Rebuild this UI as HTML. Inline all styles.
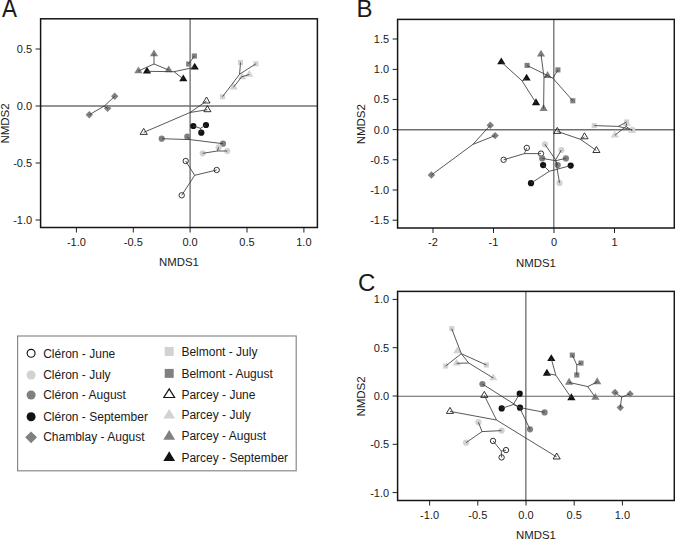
<!DOCTYPE html>
<html><head><meta charset="utf-8"><style>
html,body{margin:0;padding:0;background:#fff;}
body{width:675px;height:539px;overflow:hidden;}
svg{display:block;}
text{font-family:"Liberation Sans",sans-serif;fill:#1a1a1a;}
</style></head><body>
<svg width="675" height="539" viewBox="0 0 675 539">
<rect width="675" height="539" fill="#fff"/>
<line x1="190.1" y1="18.8" x2="190.1" y2="227.5" stroke="#707070" stroke-width="1.35"/>
<line x1="40.6" y1="106" x2="317.4" y2="106" stroke="#707070" stroke-width="1.45"/>
<polygon points="89.3,111 93,114.7 89.3,118.4 85.6,114.7" fill="#808080"/>
<polygon points="107.6,104.6 111.3,108.3 107.6,112 103.9,108.3" fill="#808080"/>
<polygon points="114.7,92.6 118.4,96.3 114.7,100 111,96.3" fill="#808080"/>
<polygon points="154,49.4 158.1,56.3 149.9,56.3" fill="#808080"/>
<polygon points="138.4,66.4 142.5,73.3 134.3,73.3" fill="#808080"/>
<polygon points="168.7,65.4 172.8,72.3 164.6,72.3" fill="#808080"/>
<polygon points="147,66.7 151.1,73.6 142.9,73.6" fill="#121212"/>
<polygon points="183.3,74.4 187.4,81.3 179.2,81.3" fill="#121212"/>
<polygon points="194.7,62.7 198.8,69.6 190.6,69.6" fill="#121212"/>
<rect x="191.85" y="53.45" width="5.1" height="5.1" fill="#808080"/>
<rect x="186.15" y="61.45" width="5.1" height="5.1" fill="#808080"/>
<rect x="237.95" y="59.95" width="5.1" height="5.1" fill="#d2d2d2"/>
<rect x="253.35" y="61.25" width="5.1" height="5.1" fill="#d2d2d2"/>
<rect x="219.95" y="94.15" width="5.1" height="5.1" fill="#d2d2d2"/>
<polygon points="249.2,69.9 253.3,76.8 245.1,76.8" fill="#d2d2d2"/>
<polygon points="233.6,82.6 237.7,89.5 229.5,89.5" fill="#d2d2d2"/>
<polygon points="242.1,72.4 246.2,79.3 238,79.3" fill="#d2d2d2"/>
<polygon points="206.5,97 210.05,103 202.95,103" fill="none" stroke="#121212" stroke-width="0.85"/>
<polygon points="207.4,105.7 210.95,111.7 203.85,111.7" fill="none" stroke="#121212" stroke-width="0.85"/>
<polygon points="143.7,128.4 147.25,134.4 140.15,134.4" fill="none" stroke="#121212" stroke-width="0.85"/>
<circle cx="193.3" cy="126" r="3.1" fill="#121212"/>
<circle cx="206" cy="125" r="3.1" fill="#121212"/>
<circle cx="201.3" cy="132.7" r="3.1" fill="#121212"/>
<circle cx="161.7" cy="138.7" r="3.1" fill="#808080"/>
<circle cx="187.3" cy="136.7" r="3.1" fill="#808080"/>
<circle cx="223" cy="143.7" r="3.1" fill="#808080"/>
<circle cx="202.7" cy="153.3" r="3.1" fill="#d2d2d2"/>
<circle cx="218.7" cy="147.3" r="3.1" fill="#d2d2d2"/>
<circle cx="227.3" cy="151" r="3.1" fill="#d2d2d2"/>
<circle cx="185.7" cy="161" r="2.7" fill="none" stroke="#121212" stroke-width="0.85"/>
<circle cx="216.7" cy="170" r="2.7" fill="none" stroke="#121212" stroke-width="0.85"/>
<circle cx="181.7" cy="195.3" r="2.7" fill="none" stroke="#121212" stroke-width="0.85"/>
<line x1="104.4" y1="106" x2="89.3" y2="114.7" stroke="#3a3a3a" stroke-width="0.85"/>
<line x1="104.4" y1="106" x2="107.6" y2="108.3" stroke="#3a3a3a" stroke-width="0.85"/>
<line x1="104.4" y1="106" x2="114.7" y2="96.3" stroke="#3a3a3a" stroke-width="0.85"/>
<line x1="154" y1="64" x2="154" y2="54" stroke="#3a3a3a" stroke-width="0.85"/>
<line x1="154" y1="64" x2="138.4" y2="71" stroke="#3a3a3a" stroke-width="0.85"/>
<line x1="154" y1="64" x2="168.7" y2="70" stroke="#3a3a3a" stroke-width="0.85"/>
<line x1="174" y1="71.7" x2="147" y2="71.3" stroke="#3a3a3a" stroke-width="0.85"/>
<line x1="174" y1="71.7" x2="183.3" y2="79" stroke="#3a3a3a" stroke-width="0.85"/>
<line x1="174" y1="71.7" x2="194.7" y2="67.3" stroke="#3a3a3a" stroke-width="0.85"/>
<line x1="191.5" y1="60" x2="194.4" y2="56" stroke="#3a3a3a" stroke-width="0.85"/>
<line x1="191.5" y1="60" x2="188.7" y2="64" stroke="#3a3a3a" stroke-width="0.85"/>
<line x1="239.6" y1="74.2" x2="240.5" y2="62.5" stroke="#3a3a3a" stroke-width="0.85"/>
<line x1="239.6" y1="74.2" x2="255.9" y2="63.8" stroke="#3a3a3a" stroke-width="0.85"/>
<line x1="239.6" y1="74.2" x2="222.5" y2="96.7" stroke="#3a3a3a" stroke-width="0.85"/>
<line x1="241.7" y1="76.8" x2="249.2" y2="74.5" stroke="#3a3a3a" stroke-width="0.85"/>
<line x1="241.7" y1="76.8" x2="233.6" y2="87.2" stroke="#3a3a3a" stroke-width="0.85"/>
<line x1="241.7" y1="76.8" x2="242.1" y2="77" stroke="#3a3a3a" stroke-width="0.85"/>
<line x1="190" y1="112.5" x2="206.5" y2="101" stroke="#3a3a3a" stroke-width="0.85"/>
<line x1="190" y1="112.5" x2="207.4" y2="109.7" stroke="#3a3a3a" stroke-width="0.85"/>
<line x1="190" y1="112.5" x2="143.7" y2="132.4" stroke="#3a3a3a" stroke-width="0.85"/>
<line x1="200.5" y1="128.3" x2="193.3" y2="126" stroke="#3a3a3a" stroke-width="0.85"/>
<line x1="200.5" y1="128.3" x2="206" y2="125" stroke="#3a3a3a" stroke-width="0.85"/>
<line x1="200.5" y1="128.3" x2="201.3" y2="132.7" stroke="#3a3a3a" stroke-width="0.85"/>
<line x1="190" y1="139.6" x2="161.7" y2="138.7" stroke="#3a3a3a" stroke-width="0.85"/>
<line x1="190" y1="139.6" x2="187.3" y2="136.7" stroke="#3a3a3a" stroke-width="0.85"/>
<line x1="190" y1="139.6" x2="223" y2="143.7" stroke="#3a3a3a" stroke-width="0.85"/>
<line x1="217.3" y1="151" x2="202.7" y2="153.3" stroke="#3a3a3a" stroke-width="0.85"/>
<line x1="217.3" y1="151" x2="218.7" y2="147.3" stroke="#3a3a3a" stroke-width="0.85"/>
<line x1="217.3" y1="151" x2="227.3" y2="151" stroke="#3a3a3a" stroke-width="0.85"/>
<line x1="194.7" y1="175.3" x2="185.7" y2="161" stroke="#3a3a3a" stroke-width="0.85"/>
<line x1="194.7" y1="175.3" x2="216.7" y2="170" stroke="#3a3a3a" stroke-width="0.85"/>
<line x1="194.7" y1="175.3" x2="181.7" y2="195.3" stroke="#3a3a3a" stroke-width="0.85"/>
<rect x="40.6" y="18.8" width="276.8" height="208.7" fill="none" stroke="#151515" stroke-width="1.5"/>
<line x1="76.4" y1="227.5" x2="76.4" y2="232.5" stroke="#151515" stroke-width="0.95"/>
<text x="76.4" y="246.2" font-size="11" text-anchor="middle">-1.0</text>
<line x1="133.3" y1="227.5" x2="133.3" y2="232.5" stroke="#151515" stroke-width="0.95"/>
<text x="133.3" y="246.2" font-size="11" text-anchor="middle">-0.5</text>
<line x1="190.1" y1="227.5" x2="190.1" y2="232.5" stroke="#151515" stroke-width="0.95"/>
<text x="190.1" y="246.2" font-size="11" text-anchor="middle">0.0</text>
<line x1="247" y1="227.5" x2="247" y2="232.5" stroke="#151515" stroke-width="0.95"/>
<text x="247" y="246.2" font-size="11" text-anchor="middle">0.5</text>
<line x1="303.9" y1="227.5" x2="303.9" y2="232.5" stroke="#151515" stroke-width="0.95"/>
<text x="303.9" y="246.2" font-size="11" text-anchor="middle">1.0</text>
<line x1="35.6" y1="49" x2="40.6" y2="49" stroke="#151515" stroke-width="0.95"/>
<text x="32.1" y="52.9" font-size="11" text-anchor="end">0.5</text>
<line x1="35.6" y1="106" x2="40.6" y2="106" stroke="#151515" stroke-width="0.95"/>
<text x="32.1" y="109.9" font-size="11" text-anchor="end">0.0</text>
<line x1="35.6" y1="163" x2="40.6" y2="163" stroke="#151515" stroke-width="0.95"/>
<text x="32.1" y="166.9" font-size="11" text-anchor="end">-0.5</text>
<line x1="35.6" y1="220" x2="40.6" y2="220" stroke="#151515" stroke-width="0.95"/>
<text x="32.1" y="223.9" font-size="11" text-anchor="end">-1.0</text>
<text x="179" y="266.4" font-size="11.4" text-anchor="middle">NMDS1</text>
<text x="0" y="0" font-size="11.5" text-anchor="middle" transform="translate(8.7,123.45) rotate(-90)">NMDS2</text>
<text x="0" y="0" font-size="22.5" transform="translate(1.9,16.9) scale(1,1.12)">A</text>
<line x1="553.8" y1="19.4" x2="553.8" y2="228" stroke="#707070" stroke-width="1.35"/>
<line x1="397.6" y1="129.7" x2="674.3" y2="129.7" stroke="#707070" stroke-width="1.45"/>
<polygon points="431.4,171.3 435.1,175 431.4,178.7 427.7,175" fill="#808080"/>
<polygon points="490.3,121.5 494,125.2 490.3,128.9 486.6,125.2" fill="#808080"/>
<polygon points="495.1,131.9 498.8,135.6 495.1,139.3 491.4,135.6" fill="#808080"/>
<polygon points="501.3,57.4 505.4,64.3 497.2,64.3" fill="#121212"/>
<polygon points="526.6,73.7 530.7,80.6 522.5,80.6" fill="#121212"/>
<polygon points="536,98.3 540.1,105.2 531.9,105.2" fill="#121212"/>
<polygon points="541,49.7 545.1,56.6 536.9,56.6" fill="#808080"/>
<polygon points="547.6,71.1 551.7,78 543.5,78" fill="#808080"/>
<polygon points="543.6,104 547.7,110.9 539.5,110.9" fill="#808080"/>
<rect x="524.55" y="62.85" width="5.1" height="5.1" fill="#808080"/>
<rect x="555.35" y="67.35" width="5.1" height="5.1" fill="#808080"/>
<rect x="570.25" y="98.25" width="5.1" height="5.1" fill="#808080"/>
<polygon points="614.8,130.7 618.9,137.6 610.7,137.6" fill="#d2d2d2"/>
<polygon points="626.6,118.9 630.7,125.8 622.5,125.8" fill="#d2d2d2"/>
<polygon points="632,125.9 636.1,132.8 627.9,132.8" fill="#d2d2d2"/>
<rect x="591.65" y="123.05" width="5.1" height="5.1" fill="#d2d2d2"/>
<rect x="624.05" y="119.45" width="5.1" height="5.1" fill="#d2d2d2"/>
<rect x="630.05" y="127.45" width="5.1" height="5.1" fill="#d2d2d2"/>
<polygon points="557.3,127.4 560.85,133.4 553.75,133.4" fill="none" stroke="#121212" stroke-width="0.85"/>
<polygon points="584.5,132.8 588.05,138.8 580.95,138.8" fill="none" stroke="#121212" stroke-width="0.85"/>
<polygon points="596.4,146.5 599.95,152.5 592.85,152.5" fill="none" stroke="#121212" stroke-width="0.85"/>
<circle cx="526.8" cy="147.9" r="2.7" fill="none" stroke="#121212" stroke-width="0.85"/>
<circle cx="503.6" cy="159.8" r="2.7" fill="none" stroke="#121212" stroke-width="0.85"/>
<circle cx="541" cy="153.6" r="2.7" fill="none" stroke="#121212" stroke-width="0.85"/>
<circle cx="544.9" cy="144.3" r="3.1" fill="#d2d2d2"/>
<circle cx="561.4" cy="150" r="3.1" fill="#d2d2d2"/>
<circle cx="559.5" cy="182.9" r="3.1" fill="#d2d2d2"/>
<circle cx="542.2" cy="158.4" r="3.1" fill="#808080"/>
<circle cx="565.9" cy="158.4" r="3.1" fill="#808080"/>
<circle cx="557.7" cy="165.1" r="3.1" fill="#808080"/>
<circle cx="543.1" cy="165.1" r="3.1" fill="#121212"/>
<circle cx="570.7" cy="165.6" r="3.1" fill="#121212"/>
<circle cx="531" cy="183.2" r="3.1" fill="#121212"/>
<line x1="472.9" y1="144.4" x2="431.4" y2="175" stroke="#3a3a3a" stroke-width="0.85"/>
<line x1="472.9" y1="144.4" x2="490.3" y2="125.2" stroke="#3a3a3a" stroke-width="0.85"/>
<line x1="472.9" y1="144.4" x2="495.1" y2="135.6" stroke="#3a3a3a" stroke-width="0.85"/>
<line x1="522.1" y1="80.9" x2="501.3" y2="62" stroke="#3a3a3a" stroke-width="0.85"/>
<line x1="522.1" y1="80.9" x2="526.6" y2="78.3" stroke="#3a3a3a" stroke-width="0.85"/>
<line x1="522.1" y1="80.9" x2="536" y2="102.9" stroke="#3a3a3a" stroke-width="0.85"/>
<line x1="544" y1="77.3" x2="541" y2="54.3" stroke="#3a3a3a" stroke-width="0.85"/>
<line x1="544" y1="77.3" x2="547.6" y2="75.7" stroke="#3a3a3a" stroke-width="0.85"/>
<line x1="544" y1="77.3" x2="543.6" y2="108.6" stroke="#3a3a3a" stroke-width="0.85"/>
<line x1="552.9" y1="78.2" x2="527.1" y2="65.4" stroke="#3a3a3a" stroke-width="0.85"/>
<line x1="552.9" y1="78.2" x2="557.9" y2="69.9" stroke="#3a3a3a" stroke-width="0.85"/>
<line x1="552.9" y1="78.2" x2="572.8" y2="100.8" stroke="#3a3a3a" stroke-width="0.85"/>
<line x1="626" y1="126.5" x2="614.8" y2="135.3" stroke="#3a3a3a" stroke-width="0.85"/>
<line x1="626" y1="126.5" x2="626.6" y2="123.5" stroke="#3a3a3a" stroke-width="0.85"/>
<line x1="626" y1="126.5" x2="632" y2="130.5" stroke="#3a3a3a" stroke-width="0.85"/>
<line x1="618.3" y1="126.4" x2="594.2" y2="125.6" stroke="#3a3a3a" stroke-width="0.85"/>
<line x1="618.3" y1="126.4" x2="626.6" y2="122" stroke="#3a3a3a" stroke-width="0.85"/>
<line x1="618.3" y1="126.4" x2="632.6" y2="130" stroke="#3a3a3a" stroke-width="0.85"/>
<line x1="580.4" y1="139.3" x2="557.3" y2="131.4" stroke="#3a3a3a" stroke-width="0.85"/>
<line x1="580.4" y1="139.3" x2="584.5" y2="136.8" stroke="#3a3a3a" stroke-width="0.85"/>
<line x1="580.4" y1="139.3" x2="596.4" y2="150.5" stroke="#3a3a3a" stroke-width="0.85"/>
<line x1="524.4" y1="153.6" x2="526.8" y2="147.9" stroke="#3a3a3a" stroke-width="0.85"/>
<line x1="524.4" y1="153.6" x2="503.6" y2="159.8" stroke="#3a3a3a" stroke-width="0.85"/>
<line x1="524.4" y1="153.6" x2="541" y2="153.6" stroke="#3a3a3a" stroke-width="0.85"/>
<line x1="555.6" y1="159.8" x2="544.9" y2="144.3" stroke="#3a3a3a" stroke-width="0.85"/>
<line x1="555.6" y1="159.8" x2="561.4" y2="150" stroke="#3a3a3a" stroke-width="0.85"/>
<line x1="555.6" y1="159.8" x2="559.5" y2="182.9" stroke="#3a3a3a" stroke-width="0.85"/>
<line x1="555.6" y1="160.7" x2="542.2" y2="158.4" stroke="#3a3a3a" stroke-width="0.85"/>
<line x1="555.6" y1="160.7" x2="565.9" y2="158.4" stroke="#3a3a3a" stroke-width="0.85"/>
<line x1="555.6" y1="160.7" x2="557.7" y2="165.1" stroke="#3a3a3a" stroke-width="0.85"/>
<line x1="549.3" y1="171.3" x2="543.1" y2="165.1" stroke="#3a3a3a" stroke-width="0.85"/>
<line x1="549.3" y1="171.3" x2="570.7" y2="165.6" stroke="#3a3a3a" stroke-width="0.85"/>
<line x1="549.3" y1="171.3" x2="531" y2="183.2" stroke="#3a3a3a" stroke-width="0.85"/>
<rect x="397.6" y="19.4" width="276.7" height="208.6" fill="none" stroke="#151515" stroke-width="1.5"/>
<line x1="433" y1="228" x2="433" y2="233" stroke="#151515" stroke-width="0.95"/>
<text x="433" y="246" font-size="11" text-anchor="middle">-2</text>
<line x1="493.5" y1="228" x2="493.5" y2="233" stroke="#151515" stroke-width="0.95"/>
<text x="493.5" y="246" font-size="11" text-anchor="middle">-1</text>
<line x1="554" y1="228" x2="554" y2="233" stroke="#151515" stroke-width="0.95"/>
<text x="554" y="246" font-size="11" text-anchor="middle">0</text>
<line x1="614.5" y1="228" x2="614.5" y2="233" stroke="#151515" stroke-width="0.95"/>
<text x="614.5" y="246" font-size="11" text-anchor="middle">1</text>
<line x1="392.6" y1="39" x2="397.6" y2="39" stroke="#151515" stroke-width="0.95"/>
<text x="389.1" y="42.9" font-size="11" text-anchor="end">1.5</text>
<line x1="392.6" y1="69.4" x2="397.6" y2="69.4" stroke="#151515" stroke-width="0.95"/>
<text x="389.1" y="73.3" font-size="11" text-anchor="end">1.0</text>
<line x1="392.6" y1="99.4" x2="397.6" y2="99.4" stroke="#151515" stroke-width="0.95"/>
<text x="389.1" y="103.3" font-size="11" text-anchor="end">0.5</text>
<line x1="392.6" y1="129.6" x2="397.6" y2="129.6" stroke="#151515" stroke-width="0.95"/>
<text x="389.1" y="133.5" font-size="11" text-anchor="end">0.0</text>
<line x1="392.6" y1="159.8" x2="397.6" y2="159.8" stroke="#151515" stroke-width="0.95"/>
<text x="389.1" y="163.7" font-size="11" text-anchor="end">-0.5</text>
<line x1="392.6" y1="190" x2="397.6" y2="190" stroke="#151515" stroke-width="0.95"/>
<text x="389.1" y="193.9" font-size="11" text-anchor="end">-1.0</text>
<line x1="392.6" y1="220.2" x2="397.6" y2="220.2" stroke="#151515" stroke-width="0.95"/>
<text x="389.1" y="224.1" font-size="11" text-anchor="end">-1.5</text>
<text x="535.95" y="267" font-size="11.4" text-anchor="middle">NMDS1</text>
<text x="0" y="0" font-size="11.5" text-anchor="middle" transform="translate(365.4,124.2) rotate(-90)">NMDS2</text>
<text x="356.6" y="17.3" font-size="24" text-anchor="start">B</text>
<line x1="525.85" y1="291.4" x2="525.85" y2="500.5" stroke="#707070" stroke-width="1.35"/>
<line x1="397.6" y1="396.25" x2="674.3" y2="396.25" stroke="#606060" stroke-width="1.2"/>
<rect x="449.15" y="326.15" width="5.1" height="5.1" fill="#d2d2d2"/>
<rect x="443.15" y="363.45" width="5.1" height="5.1" fill="#d2d2d2"/>
<rect x="483.85" y="362.45" width="5.1" height="5.1" fill="#d2d2d2"/>
<polygon points="457.3,346.4 461.4,353.3 453.2,353.3" fill="#d2d2d2"/>
<polygon points="456.7,358.7 460.8,365.6 452.6,365.6" fill="#d2d2d2"/>
<polygon points="493.3,373.4 497.4,380.3 489.2,380.3" fill="#d2d2d2"/>
<circle cx="482.4" cy="384" r="3.1" fill="#808080"/>
<circle cx="544.6" cy="412.4" r="3.1" fill="#808080"/>
<circle cx="530" cy="429.3" r="3.1" fill="#808080"/>
<circle cx="519.7" cy="393.7" r="3.1" fill="#121212"/>
<circle cx="520" cy="407.7" r="3.1" fill="#121212"/>
<circle cx="501.7" cy="408.4" r="3.1" fill="#121212"/>
<polygon points="484.3,391.4 487.85,397.4 480.75,397.4" fill="none" stroke="#121212" stroke-width="0.85"/>
<polygon points="450,407.4 453.55,413.4 446.45,413.4" fill="none" stroke="#121212" stroke-width="0.85"/>
<polygon points="556.7,453 560.25,459 553.15,459" fill="none" stroke="#121212" stroke-width="0.85"/>
<circle cx="478.4" cy="422.2" r="3.1" fill="#d2d2d2"/>
<circle cx="501.6" cy="430.6" r="3.1" fill="#d2d2d2"/>
<circle cx="466" cy="442.7" r="3.1" fill="#d2d2d2"/>
<circle cx="493" cy="440.9" r="2.7" fill="none" stroke="#121212" stroke-width="0.85"/>
<circle cx="506" cy="450.1" r="2.7" fill="none" stroke="#121212" stroke-width="0.85"/>
<circle cx="501.6" cy="457.4" r="2.7" fill="none" stroke="#121212" stroke-width="0.85"/>
<polygon points="551.3,354.2 555.4,361.1 547.2,361.1" fill="#121212"/>
<polygon points="546.9,368.8 551,375.7 542.8,375.7" fill="#121212"/>
<polygon points="571.4,393.3 575.5,400.2 567.3,400.2" fill="#121212"/>
<rect x="569.75" y="352.55" width="5.1" height="5.1" fill="#808080"/>
<rect x="578.45" y="360.55" width="5.1" height="5.1" fill="#808080"/>
<rect x="574.25" y="372.45" width="5.1" height="5.1" fill="#808080"/>
<polygon points="569.1,377.8 573.2,384.7 565,384.7" fill="#808080"/>
<polygon points="597.2,377.3 601.3,384.2 593.1,384.2" fill="#808080"/>
<polygon points="595.4,392.9 599.5,399.8 591.3,399.8" fill="#808080"/>
<polygon points="615,388.7 618.7,392.4 615,396.1 611.3,392.4" fill="#808080"/>
<polygon points="630.1,390.2 633.8,393.9 630.1,397.6 626.4,393.9" fill="#808080"/>
<polygon points="620.3,403.9 624,407.6 620.3,411.3 616.6,407.6" fill="#808080"/>
<line x1="461.3" y1="353.7" x2="451.7" y2="328.7" stroke="#3a3a3a" stroke-width="0.85"/>
<line x1="461.3" y1="353.7" x2="445.7" y2="366" stroke="#3a3a3a" stroke-width="0.85"/>
<line x1="461.3" y1="353.7" x2="486.4" y2="365" stroke="#3a3a3a" stroke-width="0.85"/>
<line x1="461.3" y1="353.7" x2="468.7" y2="363" stroke="#3a3a3a" stroke-width="0.85"/>
<line x1="456.7" y1="363.3" x2="468.7" y2="363" stroke="#3a3a3a" stroke-width="0.85"/>
<line x1="468.7" y1="363" x2="493.3" y2="378" stroke="#3a3a3a" stroke-width="0.85"/>
<line x1="519.5" y1="407.5" x2="482.4" y2="384" stroke="#3a3a3a" stroke-width="0.85"/>
<line x1="519.5" y1="407.5" x2="544.6" y2="412.4" stroke="#3a3a3a" stroke-width="0.85"/>
<line x1="519.5" y1="407.5" x2="530" y2="429.3" stroke="#3a3a3a" stroke-width="0.85"/>
<line x1="513.3" y1="404.5" x2="519.7" y2="393.7" stroke="#3a3a3a" stroke-width="0.85"/>
<line x1="513.3" y1="404.5" x2="520" y2="407.7" stroke="#3a3a3a" stroke-width="0.85"/>
<line x1="513.3" y1="404.5" x2="501.7" y2="408.4" stroke="#3a3a3a" stroke-width="0.85"/>
<line x1="496.5" y1="420" x2="484.3" y2="395.4" stroke="#3a3a3a" stroke-width="0.85"/>
<line x1="496.5" y1="420" x2="450" y2="411.4" stroke="#3a3a3a" stroke-width="0.85"/>
<line x1="496.5" y1="420" x2="556.7" y2="457" stroke="#3a3a3a" stroke-width="0.85"/>
<line x1="482" y1="431.6" x2="478.4" y2="422.2" stroke="#3a3a3a" stroke-width="0.85"/>
<line x1="482" y1="431.6" x2="501.6" y2="430.6" stroke="#3a3a3a" stroke-width="0.85"/>
<line x1="482" y1="431.6" x2="466" y2="442.7" stroke="#3a3a3a" stroke-width="0.85"/>
<line x1="501.3" y1="451" x2="493" y2="440.9" stroke="#3a3a3a" stroke-width="0.85"/>
<line x1="501.3" y1="451" x2="506" y2="450.1" stroke="#3a3a3a" stroke-width="0.85"/>
<line x1="501.3" y1="451" x2="501.6" y2="457.4" stroke="#3a3a3a" stroke-width="0.85"/>
<line x1="555.8" y1="375.2" x2="551.3" y2="358.8" stroke="#3a3a3a" stroke-width="0.85"/>
<line x1="555.8" y1="375.2" x2="546.9" y2="373.4" stroke="#3a3a3a" stroke-width="0.85"/>
<line x1="555.8" y1="375.2" x2="571.4" y2="397.9" stroke="#3a3a3a" stroke-width="0.85"/>
<line x1="576.8" y1="364.9" x2="572.3" y2="355.1" stroke="#3a3a3a" stroke-width="0.85"/>
<line x1="576.8" y1="364.9" x2="581" y2="363.1" stroke="#3a3a3a" stroke-width="0.85"/>
<line x1="576.8" y1="364.9" x2="576.8" y2="375" stroke="#3a3a3a" stroke-width="0.85"/>
<line x1="587.8" y1="386.6" x2="569.1" y2="382.4" stroke="#3a3a3a" stroke-width="0.85"/>
<line x1="587.8" y1="386.6" x2="597.2" y2="381.9" stroke="#3a3a3a" stroke-width="0.85"/>
<line x1="587.8" y1="386.6" x2="595.4" y2="397.5" stroke="#3a3a3a" stroke-width="0.85"/>
<line x1="621.6" y1="397.2" x2="615" y2="392.4" stroke="#3a3a3a" stroke-width="0.85"/>
<line x1="621.6" y1="397.2" x2="630.1" y2="393.9" stroke="#3a3a3a" stroke-width="0.85"/>
<line x1="621.6" y1="397.2" x2="620.3" y2="407.6" stroke="#3a3a3a" stroke-width="0.85"/>
<rect x="397.6" y="291.4" width="276.7" height="209.1" fill="none" stroke="#151515" stroke-width="1.5"/>
<line x1="429.6" y1="500.5" x2="429.6" y2="505.5" stroke="#151515" stroke-width="0.95"/>
<text x="429.6" y="518.8" font-size="11" text-anchor="middle">-1.0</text>
<line x1="477.8" y1="500.5" x2="477.8" y2="505.5" stroke="#151515" stroke-width="0.95"/>
<text x="477.8" y="518.8" font-size="11" text-anchor="middle">-0.5</text>
<line x1="526" y1="500.5" x2="526" y2="505.5" stroke="#151515" stroke-width="0.95"/>
<text x="526" y="518.8" font-size="11" text-anchor="middle">0.0</text>
<line x1="574.2" y1="500.5" x2="574.2" y2="505.5" stroke="#151515" stroke-width="0.95"/>
<text x="574.2" y="518.8" font-size="11" text-anchor="middle">0.5</text>
<line x1="622.4" y1="500.5" x2="622.4" y2="505.5" stroke="#151515" stroke-width="0.95"/>
<text x="622.4" y="518.8" font-size="11" text-anchor="middle">1.0</text>
<line x1="392.6" y1="299.4" x2="397.6" y2="299.4" stroke="#151515" stroke-width="0.95"/>
<text x="389.1" y="303.3" font-size="11" text-anchor="end">1.0</text>
<line x1="392.6" y1="347.7" x2="397.6" y2="347.7" stroke="#151515" stroke-width="0.95"/>
<text x="389.1" y="351.6" font-size="11" text-anchor="end">0.5</text>
<line x1="392.6" y1="396" x2="397.6" y2="396" stroke="#151515" stroke-width="0.95"/>
<text x="389.1" y="399.9" font-size="11" text-anchor="end">0.0</text>
<line x1="392.6" y1="444.3" x2="397.6" y2="444.3" stroke="#151515" stroke-width="0.95"/>
<text x="389.1" y="448.2" font-size="11" text-anchor="end">-0.5</text>
<line x1="392.6" y1="492.6" x2="397.6" y2="492.6" stroke="#151515" stroke-width="0.95"/>
<text x="389.1" y="496.5" font-size="11" text-anchor="end">-1.0</text>
<text x="535.95" y="538.9" font-size="11.4" text-anchor="middle">NMDS1</text>
<text x="0" y="0" font-size="11.5" text-anchor="middle" transform="translate(365.4,396.45) rotate(-90)">NMDS2</text>
<text x="358.1" y="291.3" font-size="24" text-anchor="start">C</text>
<rect x="17.6" y="336" width="278.6" height="134.8" fill="none" stroke="#8a8a8a" stroke-width="1.2"/>
<circle cx="31.1" cy="353.3" r="3.95" fill="white" stroke="#121212" stroke-width="1.15"/>
<text x="43.2" y="357.7" font-size="12" text-anchor="start">Cléron - June</text>
<circle cx="31.1" cy="375" r="4.5" fill="#d2d2d2"/>
<text x="43.2" y="378.7" font-size="12" text-anchor="start">Cléron - July</text>
<circle cx="31.1" cy="395" r="4.5" fill="#808080"/>
<text x="43.2" y="398.9" font-size="12" text-anchor="start">Cléron - August</text>
<circle cx="31.1" cy="416.8" r="4.5" fill="#121212"/>
<text x="43.2" y="420.7" font-size="12" text-anchor="start">Cléron - September</text>
<polygon points="31.1,431.38 37.02,437.3 31.1,443.22 25.18,437.3" fill="#808080"/>
<text x="43.2" y="441.4" font-size="12" text-anchor="start">Chamblay - August</text>
<rect x="164.71" y="346.91" width="8.98" height="8.98" fill="#d2d2d2"/>
<text x="181.4" y="356.3" font-size="12" text-anchor="start">Belmont - July</text>
<rect x="164.71" y="368.91" width="8.98" height="8.98" fill="#808080"/>
<text x="181.4" y="378.2" font-size="12" text-anchor="start">Belmont - August</text>
<polygon points="169.2,388.81 174.6,397.52 163.8,397.52" fill="white" stroke="#121212" stroke-width="1.2"/>
<text x="181.4" y="398.5" font-size="12" text-anchor="start">Parcey - June</text>
<polygon points="169.2,409.02 175.1,418.62 163.3,418.62" fill="#d2d2d2"/>
<text x="181.4" y="419.1" font-size="12" text-anchor="start">Parcey - July</text>
<polygon points="169.2,430.12 175.1,439.72 163.3,439.72" fill="#808080"/>
<text x="181.4" y="440.3" font-size="12" text-anchor="start">Parcey - August</text>
<polygon points="169.2,451.32 175.1,460.92 163.3,460.92" fill="#121212"/>
<text x="181.4" y="461.5" font-size="12" text-anchor="start">Parcey - September</text>
</svg>
</body></html>
